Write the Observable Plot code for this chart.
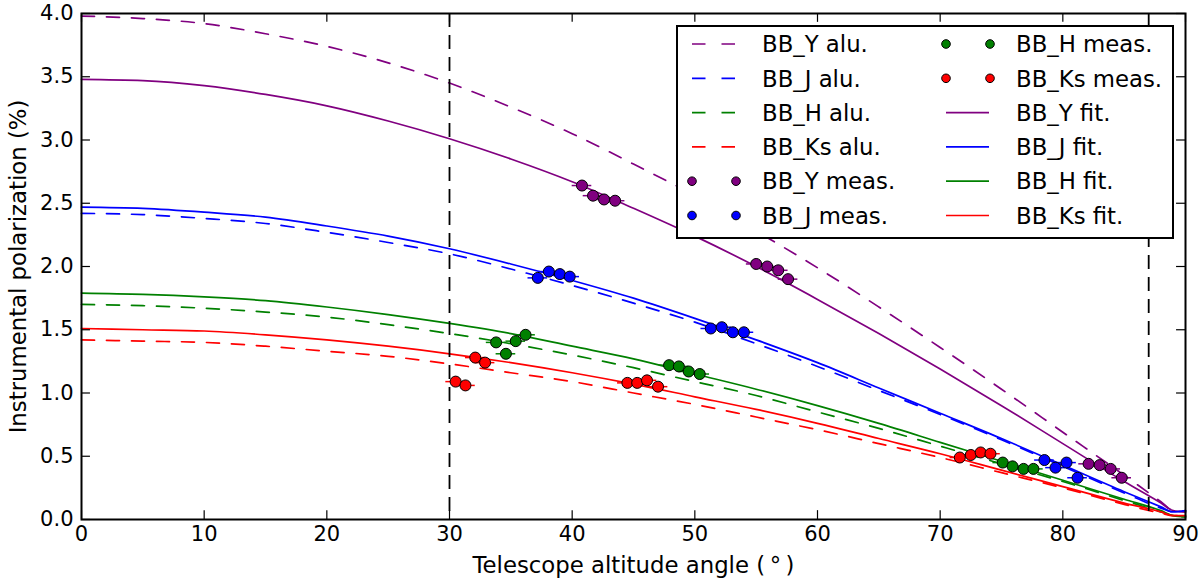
<!DOCTYPE html>
<html>
<head>
<meta charset="utf-8">
<script src="https://cdn.jsdelivr.net/npm/d3@7"></script>
<script src="https://cdn.jsdelivr.net/npm/@observablehq/plot@0.6"></script>
<style>
  body { margin: 0; background: #fff; }
  #chart { position: relative; width: 1200px; height: 587px; }
  #legend { position: absolute; left: 676px; top: 25px; }
</style>
</head>
<body>
<div id="chart"></div>
<script>
const angles = [0, 5, 10, 15, 20, 25, 30, 35, 40, 45, 50, 55, 60, 65, 70, 75, 80, 85, 88, 89, 90];

// aluminium model (dashed)
const yAlu  = [3.98, 3.96, 3.92, 3.84, 3.74, 3.61, 3.45, 3.26, 3.05, 2.81, 2.56, 2.28, 1.99, 1.68, 1.36, 1.03, 0.69, 0.35, 0.14, 0.07, 0.06];
const jAlu  = [2.42, 2.41, 2.38, 2.34, 2.27, 2.19, 2.10, 1.98, 1.85, 1.71, 1.56, 1.39, 1.21, 1.02, 0.83, 0.63, 0.42, 0.21, 0.09, 0.06, 0.07];
const hAlu  = [1.70, 1.69, 1.67, 1.64, 1.60, 1.54, 1.47, 1.39, 1.30, 1.20, 1.09, 0.98, 0.85, 0.72, 0.58, 0.44, 0.30, 0.15, 0.06, 0.03, 0.02];
const ksAlu = [1.42, 1.41, 1.40, 1.37, 1.33, 1.29, 1.23, 1.16, 1.09, 1.00, 0.91, 0.81, 0.71, 0.60, 0.49, 0.37, 0.25, 0.12, 0.05, 0.03, 0.03];

// fits (solid)
const yFit  = [3.48, 3.47, 3.43, 3.36, 3.27, 3.15, 3.01, 2.85, 2.67, 2.46, 2.24, 2.00, 1.74, 1.47, 1.19, 0.90, 0.60, 0.30, 0.13, 0.07, 0.06];
const jFit  = [2.47, 2.46, 2.43, 2.39, 2.32, 2.24, 2.14, 2.02, 1.89, 1.75, 1.59, 1.42, 1.24, 1.04, 0.84, 0.64, 0.43, 0.22, 0.10, 0.06, 0.07];
const hFit  = [1.79, 1.78, 1.76, 1.73, 1.68, 1.62, 1.55, 1.47, 1.37, 1.27, 1.15, 1.03, 0.90, 0.76, 0.61, 0.46, 0.31, 0.16, 0.07, 0.03, 0.02];
const ksFit = [1.51, 1.50, 1.49, 1.46, 1.42, 1.37, 1.31, 1.24, 1.16, 1.07, 0.97, 0.87, 0.76, 0.64, 0.52, 0.39, 0.26, 0.13, 0.06, 0.03, 0.03];

// measurements
const yMeasAng  = [40.8, 41.7, 42.6, 43.5, 55.0, 55.9, 56.8, 57.6, 82.1, 83.0, 83.9, 84.8];
const yMeasVal  = [2.64, 2.56, 2.53, 2.52, 2.02, 2.00, 1.97, 1.90, 0.44, 0.43, 0.40, 0.33];
const jMeasAng  = [37.2, 38.1, 39.0, 39.8, 51.3, 52.2, 53.1, 54.0, 78.5, 79.4, 80.3, 81.2];
const jMeasVal  = [1.91, 1.96, 1.94, 1.92, 1.51, 1.52, 1.48, 1.48, 0.47, 0.41, 0.45, 0.33];
const hMeasAng  = [33.8, 34.6, 35.4, 36.2, 47.9, 48.7, 49.5, 50.4, 75.1, 75.9, 76.8, 77.6];
const hMeasVal  = [1.40, 1.31, 1.41, 1.46, 1.22, 1.21, 1.17, 1.15, 0.45, 0.42, 0.40, 0.40];
const ksMeasAng = [30.5, 31.3, 32.1, 32.9, 44.5, 45.3, 46.1, 47.0, 71.6, 72.5, 73.3, 74.1];
const ksMeasVal = [1.09, 1.06, 1.28, 1.24, 1.08, 1.08, 1.10, 1.05, 0.49, 0.51, 0.53, 0.52];
const errHalf = 0.8;

const bands = ["BB_Y", "BB_J", "BB_H", "BB_Ks"];
const colors = ["#800080", "#0000ff", "#008000", "#ff0000"];
const aluSeries = [yAlu, jAlu, hAlu, ksAlu];
const fitSeries = [yFit, jFit, hFit, ksFit];
const measAng = [yMeasAng, jMeasAng, hMeasAng, ksMeasAng];
const measVal = [yMeasVal, jMeasVal, hMeasVal, ksMeasVal];

const xTicks = [0, 10, 20, 30, 40, 50, 60, 70, 80, 90];
const yTicks = [0, 0.5, 1.0, 1.5, 2.0, 2.5, 3.0, 3.5, 4.0];
const limits = [30, 87];

const toRows = (xs, ys) => xs.map((x, i) => ({x, y: ys[i]}));

let marks = [];
aluSeries.forEach((s, i) => {
  marks.push(Plot.line(toRows(angles, s), {x: "x", y: "y", stroke: colors[i], strokeWidth: 1.7, strokeDasharray: "13,12", curve: "monotone-x"}));
});
fitSeries.forEach((s, i) => {
  marks.push(Plot.line(toRows(angles, s), {x: "x", y: "y", stroke: colors[i], strokeWidth: 1.7, curve: "monotone-x"}));
});
marks.push(Plot.ruleX(limits, {stroke: "black", strokeWidth: 1.8, strokeDasharray: "14,8"}));
measAng.forEach((a, i) => {
  let rows = toRows(a, measVal[i]);
  marks.push(Plot.ruleY(rows, {y: "y", x1: d => d.x - errHalf, x2: d => d.x + errHalf, stroke: colors[i], strokeWidth: 1.5}));
  marks.push(Plot.dot(rows, {x: "x", y: "y", r: 5.5, fill: colors[i], fillOpacity: 1, stroke: "black", strokeWidth: 1}));
});

let chart = Plot.plot({
  width: 1200,
  height: 587,
  marginLeft: 81,
  marginRight: 15,
  marginTop: 13,
  marginBottom: 68,
  style: {fontFamily: "DejaVu Sans", fontSize: "21px", backgroundColor: "#fff", color: "black", overflow: "visible"},
  x: {domain: [0, 90]},
  y: {domain: [0, 4]},
  marks: [
    ...marks,
    // inward ticks on all four sides
    Plot.ruleX(xTicks, {y1: 0, y2: 0.07, stroke: "black", strokeWidth: 1.2}),
    Plot.ruleX(xTicks, {y1: 4, y2: 3.93, stroke: "black", strokeWidth: 1.2}),
    Plot.ruleY(yTicks, {x1: 0, x2: 0.73, stroke: "black", strokeWidth: 1.2}),
    Plot.ruleY(yTicks, {x1: 90, x2: 89.27, stroke: "black", strokeWidth: 1.2}),
    Plot.frame({stroke: "black", strokeWidth: 2}),
    Plot.axisX({ticks: xTicks, tickSize: 0, tickPadding: 7, label: null, fontSize: 21}),
    Plot.axisY({ticks: yTicks, tickSize: 0, tickPadding: 8, label: null, tickFormat: d3.format(".1f"), fontSize: 21}),
    Plot.text(["Telescope altitude angle (\u2009\u00b0\u2009)"], {frameAnchor: "bottom", dy: 53, fontSize: 22.8}),
    Plot.text(["Instrumental polarization (%)"], {frameAnchor: "left", textAnchor: "middle", dx: -63, rotate: -90, fontSize: 22.8}),
  ],
});

d3.select("#chart").append(() => chart);

// legend box, two columns of six entries
const entries = [];
bands.forEach((b, i) => entries.push({label: b + " alu.", kind: "alu", color: colors[i]}));
bands.forEach((b, i) => entries.push({label: b + " meas.", kind: "meas", color: colors[i]}));
bands.forEach((b, i) => entries.push({label: b + " fit.", kind: "fit", color: colors[i]}));

const lg = d3.select("#chart").append("svg")
  .attr("id", "legend")
  .attr("width", 498)
  .attr("height", 214);
lg.append("rect").attr("x", 1).attr("y", 1).attr("width", 496).attr("height", 212)
  .attr("fill", "white").attr("stroke", "black").attr("stroke-width", 2);

entries.forEach((e, k) => {
  let col = Math.floor(k / 6), row = k % 6;
  let x0 = col == 0 ? 16 : 270;
  let cy = 19 + row * 34.3;
  let g = lg.append("g");
  if (e.kind == "meas") {
    [x0, x0 + 44].forEach(cx => g.append("circle").attr("cx", cx).attr("cy", cy).attr("r", 4.3)
      .attr("fill", e.color).attr("stroke", "black").attr("stroke-width", 1));
  } else {
    g.append("line").attr("x1", x0).attr("x2", x0 + 43).attr("y1", cy).attr("y2", cy)
      .attr("stroke", e.color).attr("stroke-width", 1.7)
      .attr("stroke-dasharray", e.kind == "alu" ? "13.5,16" : null);
  }
  g.append("text").attr("x", x0 + 70).attr("y", cy).attr("dy", "0.36em")
    .attr("font-family", "DejaVu Sans").attr("font-size", 22.8).attr("fill", "black")
    .text(e.label);
});
</script>
</body>
</html>
